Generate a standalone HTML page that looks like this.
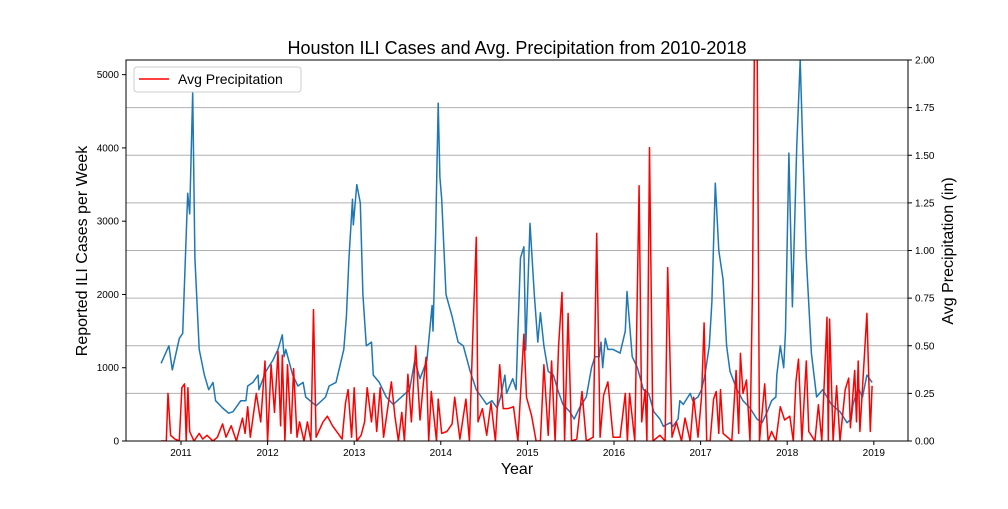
<!DOCTYPE html>
<html><head><meta charset="utf-8"><style>
body{margin:0;background:#fff;font-family:"Liberation Sans",sans-serif}
svg text{font-family:"Liberation Sans",sans-serif}
</style></head><body>
<svg id="chart" width="1008" height="504" viewBox="0 0 1008 504">
<defs><clipPath id="plotclip"><rect x="126" y="60" width="782" height="381"/></clipPath></defs>
<rect width="1008" height="504" fill="#fff"/>
<text x="517" y="54" text-anchor="middle" font-size="18">Houston ILI Cases and Avg. Precipitation from 2010-2018</text>
<g id="grid"></g>
<g id="series" clip-path="url(#plotclip)"></g>
<rect x="126" y="60" width="782" height="381" fill="none" stroke="#000" stroke-width="1"/>
<g id="axes"></g>
<text x="517" y="474" text-anchor="middle" font-size="16">Year</text>
<text transform="translate(87,251) rotate(-90)" text-anchor="middle" font-size="16">Reported ILI Cases per Week</text>
<text transform="translate(953,251) rotate(-90)" text-anchor="middle" font-size="16">Avg Precipitation (in)</text>
<g>
<rect x="134" y="67" width="167" height="25" rx="3" fill="#fff" fill-opacity="0.85" stroke="#ccc"/>
<line x1="139" y1="79" x2="169" y2="79" stroke="red" stroke-width="1.6"/>
<text x="178" y="84" font-size="14">Avg Precipitation</text>
</g>
</svg>
<script>
const yearTicks=[2011,2012,2013,2014,2015,2016,2017,2018,2019];
const caseTicks=[0,1000,2000,3000,4000,5000];
const precipTicks=[0,0.25,0.5,0.75,1.0,1.25,1.5,1.75,2.0];
const iliDates=[2010.77,2010.86,2010.90,2010.98,2011.02,2011.077,2011.10,2011.135,2011.16,2011.21,2011.27,2011.32,2011.37,2011.40,2011.48,2011.55,2011.60,2011.69,2011.75,2011.77,2011.83,2011.89,2011.90,2011.98,2012.06,2012.12,2012.17,2012.19,2012.21,2012.29,2012.35,2012.41,2012.44,2012.56,2012.67,2012.71,2012.79,2012.83,2012.88,2012.91,2012.94,2012.98,2012.99,2013.03,2013.07,2013.10,2013.14,2013.20,2013.22,2013.29,2013.37,2013.45,2013.64,2013.70,2013.76,2013.84,2013.90,2013.91,2013.94,2013.97,2013.99,2014.01,2014.06,2014.13,2014.14,2014.20,2014.26,2014.34,2014.41,2014.47,2014.53,2014.59,2014.65,2014.69,2014.74,2014.76,2014.83,2014.87,2014.89,2014.92,2014.96,2014.98,2015.03,2015.08,2015.12,2015.15,2015.19,2015.24,2015.30,2015.35,2015.41,2015.49,2015.54,2015.60,2015.68,2015.74,2015.78,2015.83,2015.85,2015.87,2015.90,2015.93,2015.99,2016.07,2016.13,2016.15,2016.21,2016.27,2016.34,2016.40,2016.46,2016.53,2016.57,2016.65,2016.68,2016.74,2016.76,2016.80,2016.88,2016.91,2016.97,2017.01,2017.05,2017.10,2017.13,2017.17,2017.21,2017.26,2017.30,2017.34,2017.42,2017.49,2017.57,2017.65,2017.71,2017.77,2017.82,2017.87,2017.88,2017.92,2017.96,2017.98,2018.02,2018.06,2018.11,2018.15,2018.18,2018.22,2018.28,2018.34,2018.41,2018.51,2018.61,2018.69,2018.74,2018.76,2018.82,2018.87,2018.92,2018.98];
const iliCases=[1060,1300,970,1400,1470,3380,3100,4760,2500,1250,900,700,800,550,450,380,400,550,550,750,800,900,700,950,1100,1250,1450,1150,1250,900,750,800,600,480,600,750,800,1000,1250,1700,2500,3300,2950,3500,3250,2000,1300,1350,900,800,600,500,700,1100,850,1100,1850,1500,2800,4610,3600,3300,2000,1700,1650,1350,1300,950,700,600,500,550,450,600,900,650,850,700,1500,2500,2650,1240,2970,2000,1350,1750,1300,950,900,700,500,400,300,450,600,1000,1150,1150,1350,1000,1400,1250,1250,1200,1500,2040,1150,1000,700,650,400,300,200,250,200,300,550,500,650,550,600,700,900,1300,1900,3520,2600,2200,1300,950,700,550,450,300,250,400,550,600,900,1300,1000,1500,3930,1830,4000,5200,4000,2500,1200,600,700,500,400,250,300,500,720,600,900,800,1150,1300];
const rainDates=[2010.77,2010.83,2010.85,2010.88,2010.93,2010.98,2011.01,2011.04,2011.06,2011.08,2011.10,2011.15,2011.21,2011.25,2011.30,2011.37,2011.42,2011.48,2011.52,2011.58,2011.64,2011.71,2011.74,2011.77,2011.80,2011.87,2011.92,2011.97,2012.00,2012.04,2012.08,2012.12,2012.15,2012.17,2012.20,2012.23,2012.27,2012.30,2012.34,2012.37,2012.42,2012.46,2012.50,2012.53,2012.56,2012.64,2012.69,2012.75,2012.86,2012.90,2012.93,2012.97,2013.00,2013.03,2013.08,2013.12,2013.15,2013.20,2013.23,2013.26,2013.30,2013.34,2013.38,2013.43,2013.47,2013.51,2013.55,2013.58,2013.62,2013.66,2013.71,2013.76,2013.80,2013.83,2013.86,2013.89,2013.95,2013.97,2014.01,2014.07,2014.13,2014.16,2014.22,2014.29,2014.33,2014.37,2014.41,2014.43,2014.48,2014.53,2014.58,2014.63,2014.68,2014.72,2014.78,2014.84,2014.89,2014.96,2014.99,2015.05,2015.10,2015.15,2015.19,2015.24,2015.28,2015.32,2015.36,2015.40,2015.43,2015.47,2015.51,2015.57,2015.63,2015.68,2015.76,2015.80,2015.84,2015.88,2015.93,2015.99,2016.07,2016.13,2016.155,2016.18,2016.24,2016.29,2016.32,2016.36,2016.38,2016.41,2016.45,2016.53,2016.59,2016.62,2016.67,2016.72,2016.78,2016.82,2016.88,2016.92,2016.97,2017.01,2017.04,2017.07,2017.11,2017.15,2017.18,2017.21,2017.23,2017.26,2017.36,2017.41,2017.44,2017.46,2017.49,2017.53,2017.57,2017.60,2017.63,2017.65,2017.68,2017.74,2017.78,2017.82,2017.87,2017.92,2017.97,2018.03,2018.07,2018.10,2018.13,2018.17,2018.22,2018.25,2018.32,2018.36,2018.40,2018.46,2018.475,2018.49,2018.53,2018.57,2018.61,2018.67,2018.71,2018.73,2018.78,2018.80,2018.82,2018.84,2018.92,2018.96,2018.98];
const rainInches=[0,0,0.25,0.03,0.01,0,0.28,0.3,0,0.28,0.05,0,0.04,0.01,0.03,0,0.02,0.09,0.02,0.08,0,0.12,0.04,0.18,0.02,0.25,0.1,0.42,0,0.4,0.15,0.47,0.08,0.45,0,0.4,0.04,0.38,0.02,0.1,0,0.1,0,0.69,0.02,0.1,0.13,0.08,0.01,0.2,0.27,0.02,0.28,0,0.03,0.1,0.28,0.1,0.25,0.05,0.28,0.02,0.15,0.31,0.13,0,0.15,0,0.35,0.1,0.5,0.11,0.31,0.44,0,0.26,0,0.22,0.04,0.05,0.09,0.23,0.01,0.22,0,0.55,1.07,0.1,0.17,0.03,0.2,0,0.4,0.17,0.17,0.18,0,0.56,0.23,0.13,0,0,0.4,0.03,0.42,0,0.5,0.78,0,0.67,0,0.01,0.26,0,0.02,1.09,0.02,0.24,0.31,0.02,0.02,0.25,0,0.25,0,1.34,0.1,0.27,0,1.54,0,0.03,0,0.91,0.02,0.1,0,0.12,0,0.23,0.02,0.23,0.62,0,0,0.22,0.26,0.04,0.27,0.04,0,0.37,0.04,0.46,0.25,0.32,0,0.84,2.6,2.3,0,0.3,0,0.05,0,0.18,0.11,0.13,0,0.31,0.43,0,0.42,0.05,0,0.19,0,0.65,0,0.64,0,0.29,0,0.27,0.33,0.07,0.37,0.1,0.42,0.05,0.67,0.05,0.29];

const NS='http://www.w3.org/2000/svg';
const L=126,R=908,T=60,B=441;
function xs(d){return 181+(d-2011)*86.6;}
function yL(v){return B-v*(B-T)/5200;}
function yR(v){return B-v*(B-T)/2.0;}
function mk(tag,attrs,parent){const e=document.createElementNS(NS,tag);for(const k in attrs)e.setAttribute(k,attrs[k]);parent.appendChild(e);return e;}
const grid=document.getElementById('grid'),axes=document.getElementById('axes'),series=document.getElementById('series');
precipTicks.forEach(t=>{
  const y=yR(t);
  if(t>0&&t<2){const g=mk('line',{x1:L,x2:R,y1:y,y2:y,stroke:'#b0b0b0','stroke-width':1},grid);
  
  }
  const tk=mk('line',{x1:R,x2:R+4,y1:y,y2:y,stroke:'#000'},axes);
  
  
  const tx=mk('text',{x:R+7,y:y+3.5,'font-size':10},axes);tx.textContent=t.toFixed(2);
  
  
});
caseTicks.forEach(t=>{
  const y=yL(t);
  const tk=mk('line',{x1:L-4,x2:L,y1:y,y2:y,stroke:'#000'},axes);
  
  
  const tx=mk('text',{x:L-7,y:y+3.5,'font-size':10,'text-anchor':'end'},axes);tx.textContent=t;
  
  
});
yearTicks.forEach(t=>{
  const x=xs(t);
  const tk=mk('line',{x1:x,x2:x,y1:B,y2:B+4,stroke:'#000'},axes);
  
  
  const tx=mk('text',{x:x,y:B+15,'font-size':10,'text-anchor':'middle'},axes);tx.textContent=t;
  
  
});
const ili=mk('polyline',{points:iliDates.map((d,i)=>xs(d).toFixed(1)+','+yL(iliCases[i]).toFixed(1)).join(' '),fill:'none',stroke:'#1f77b4','stroke-width':1.5,'stroke-linejoin':'round'},series);


const rain=mk('polyline',{points:rainDates.map((d,i)=>xs(d).toFixed(1)+','+yR(rainInches[i]).toFixed(1)).join(' '),fill:'none',stroke:'red','stroke-width':1.5,'stroke-linejoin':'round'},series);


</script>
</body></html>
